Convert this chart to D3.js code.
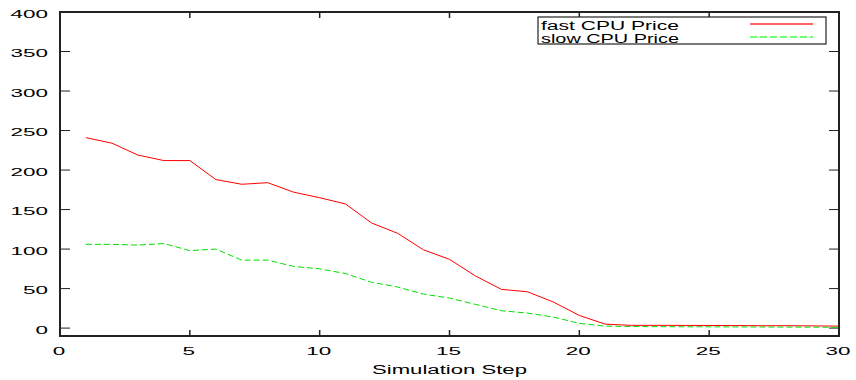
<!DOCTYPE html>
<html><head><meta charset="utf-8">
<script src="https://cdn.jsdelivr.net/npm/d3@7/dist/d3.min.js"></script>
<style>body{margin:0;background:#fff}svg{display:block}text{font-family:"Liberation Sans",Arial,sans-serif;fill:#000}</style>
</head><body><svg id="c" width="856" height="380"></svg>
<script>
const steps = d3.range(1, 31);
const fastPrice = [241,234,219,212,212,188,182,184,172,165,157,133,120,99,87,66,49,46,33,16,5,3.5,3.5,3.4,3.3,3.2,3,3,2.8,2.5];
const slowPrice = [106,106,105,107,98,100,86,86,78,75,69,58,52,43,38,30,22,19,14,6,2.5,2,1.8,1.7,1.6,1.5,1.4,1.3,1.2,1];
const xTicks = [0,5,10,15,20,25,30];
const yTicks = [0,50,100,150,200,250,300,350,400];
const seriesNames = ["fast CPU Price","slow CPU Price"];
const xLabel = "Simulation Step";

const svg = d3.select("#c");
const L=60, R=839, T=12, B=336;
const x = d3.scaleLinear().domain([0,30]).range([L,R]);
const y = d3.scaleLinear().domain([-10,400]).range([B,T]);

function stretch(sel, perChar){
  sel.each(function(){
    const n = this.textContent.length;
    this.setAttribute("textLength", n*perChar);
    this.setAttribute("lengthAdjust","spacingAndGlyphs");
  });
}
function stretchTo(sel, w){
  sel.attr("textLength", w).attr("lengthAdjust","spacingAndGlyphs");
}

const ax = "#222";
const g = svg.append("g");
g.selectAll(".yt").data(yTicks).join("line")
  .attr("x1",L).attr("x2",L+10).attr("y1",d=>y(d)).attr("y2",d=>y(d)).attr("stroke",ax).attr("stroke-width",1);
g.selectAll(".yr").data(yTicks).join("line")
  .attr("x1",R).attr("x2",R-10).attr("y1",d=>y(d)).attr("y2",d=>y(d)).attr("stroke",ax).attr("stroke-width",1);
g.selectAll(".xt").data(xTicks).join("line")
  .attr("x1",d=>x(d)).attr("x2",d=>x(d)).attr("y1",B).attr("y2",B-6).attr("stroke",ax).attr("stroke-width",1.5);
g.selectAll(".xtt").data(xTicks).join("line")
  .attr("x1",d=>x(d)).attr("x2",d=>x(d)).attr("y1",T).attr("y2",T+6).attr("stroke",ax).attr("stroke-width",1.5);

const yl = g.selectAll(".yl").data(yTicks).join("text")
  .attr("x",L-12).attr("y",d=>y(d)+5.5).attr("text-anchor","end").attr("font-size",10.5).text(d=>d);
stretch(yl, 12.5);
const xl = g.selectAll(".xl").data(xTicks).join("text")
  .attr("x",d=>x(d)-1).attr("y",B+18.5).attr("text-anchor","middle").attr("font-size",10.5).text(d=>d);
stretch(xl, 12.5);

const lab = svg.append("text").attr("x",(L+R)/2).attr("y",373.5).attr("text-anchor","middle").attr("font-size",12.5).text(xLabel);
stretchTo(lab, 155);

const line = d3.line().x((d,i)=>x(steps[i])).y(d=>y(d));
svg.append("path").datum(fastPrice).attr("d",line).attr("fill","none").attr("stroke","#ff0000").attr("stroke-width",1);
svg.append("path").datum(slowPrice).attr("d",line).attr("fill","none").attr("stroke","#00e000").attr("stroke-width",1).attr("stroke-dasharray","6,3");

svg.append("rect").attr("x",L).attr("y",T).attr("width",R-L).attr("height",B-T).attr("fill","none").attr("stroke",ax).attr("stroke-width",2);

const lg = svg.append("g");
lg.append("rect").attr("x",538).attr("y",17).attr("width",288).attr("height",27).attr("fill","#fff").attr("stroke",ax).attr("stroke-width",1.2);
const colors = ["#ff3030","#40ff40"], dashes=[null,"7,3"];
seriesNames.forEach((n,i)=>{
  const t = lg.append("text").attr("x",541).attr("y",29.5+i*13).attr("font-size",12.5).text(n);
  stretchTo(t, 138);
  lg.append("path").attr("d",`M750,${24+i*13}H813`)
    .attr("stroke",colors[i]).attr("stroke-width",1.5).attr("fill","none").attr("stroke-dasharray",dashes[i]);
});
</script></body></html>
